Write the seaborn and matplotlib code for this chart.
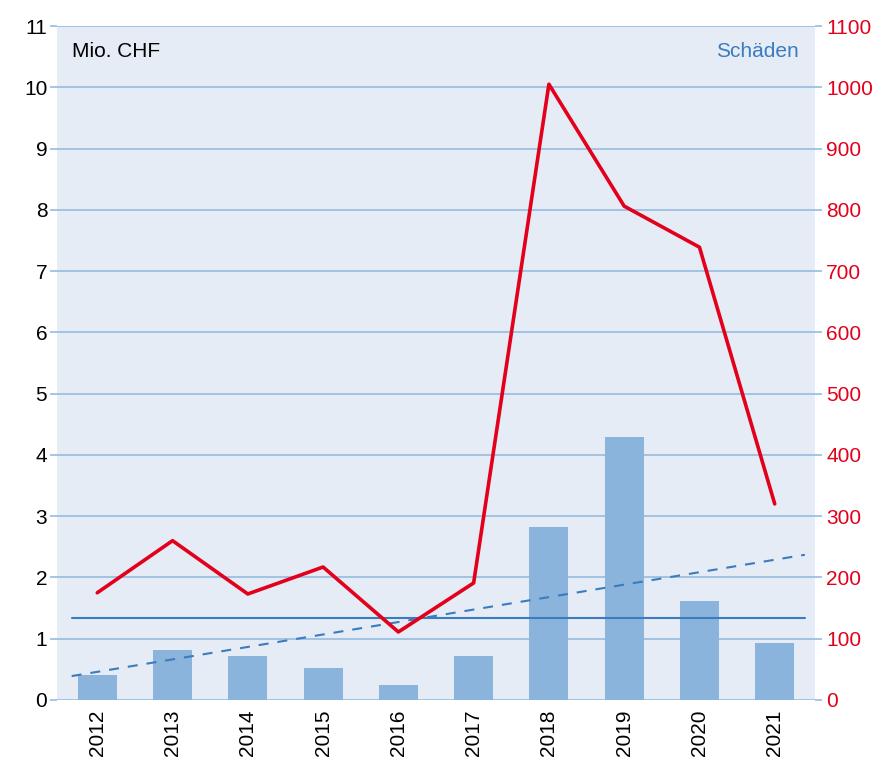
import numpy as np
import pandas as pd
import seaborn as sns
import matplotlib.pyplot as plt

# %% Data
years = [2012, 2013, 2014, 2015, 2016, 2017, 2018, 2019, 2020, 2021]
# Schäden in Mio. CHF (bars, left axis)
damage_mio = [0.40, 0.82, 0.72, 0.52, 0.25, 0.72, 2.83, 4.30, 1.61, 0.93]
# red line, right axis
red_series = [175, 260, 173, 217, 111, 191, 1005, 806, 739, 320]
# mean level and trend line of the damages (left axis)
mean_value = 1.34
trend_years = [2011.66, 2021.40]
trend_values = [0.39, 2.37]

left_ticks = list(range(0, 12))
right_ticks = list(range(0, 1101, 100))

df = pd.DataFrame({'year': years, 'damage': damage_mio, 'red': red_series})

# %% Colours
bg_color = '#e5ecf6'
grid_color = '#8fb7de'
bar_color = '#8ab4dc'
blue_line = '#3b7bbf'
red_color = '#e2001a'

sns.set_style('white')
plt.rcParams['font.family'] = ['Liberation Sans', 'DejaVu Sans']

fig = plt.figure(figsize=(8.85, 7.65), dpi=100)
ax = fig.add_axes([0.0644, 0.085, 0.8565, 0.881])
ax.set_facecolor(bg_color)

sns.barplot(data=df, x='year', y='damage', native_scale=True, width=0.52,
            color=bar_color, saturation=1, linewidth=0, ax=ax, zorder=2)

# mean and trend
ax.plot(trend_years, [mean_value, mean_value], color=blue_line, lw=1.5, zorder=3)
ax.plot(trend_years, trend_values, color=blue_line, lw=1.5,
        dashes=(4.8, 4.3), zorder=3)

ax.set_xlim(years[0] - 0.535, years[-1] + 0.535)
ax.set_ylim(0, 11)
ax.set_yticks(left_ticks)
ax.set_xticks(years)
ax.set_xticklabels([str(y) for y in years], rotation=90)
ax.yaxis.grid(True, color=grid_color, lw=1.1, zorder=1)
ax.set_axisbelow(True)
ax.tick_params(axis='y', length=5, width=1.1, color=grid_color, pad=2,
               labelsize=15, labelcolor='black')
ax.tick_params(axis='x', length=0, pad=7, labelsize=15, labelcolor='black')
for s in ax.spines.values():
    s.set_visible(False)
ax.set_xlabel('')
ax.set_ylabel('')

# right axis
ax2 = ax.twinx()
sns.lineplot(data=df, x='year', y='red', color=red_color, lw=2.6, ax=ax2, zorder=4)
ax2.set_ylim(0, 1100)
ax2.set_yticks(right_ticks)
ax2.tick_params(axis='y', length=5, width=1.1, color=grid_color, pad=3,
                labelsize=15, labelcolor=red_color)
for s in ax2.spines.values():
    s.set_visible(False)
ax2.set_ylabel('')
ax2.set_xlabel('')
ax2.grid(False)

ax.text(0.02, 0.962, 'Mio. CHF', transform=ax.transAxes, fontsize=15,
        ha='left', va='center', color='black')
ax.text(0.979, 0.962, 'Schäden', transform=ax.transAxes, fontsize=15,
        ha='right', va='center', color=blue_line)

fig.savefig('out.png', dpi=100)
